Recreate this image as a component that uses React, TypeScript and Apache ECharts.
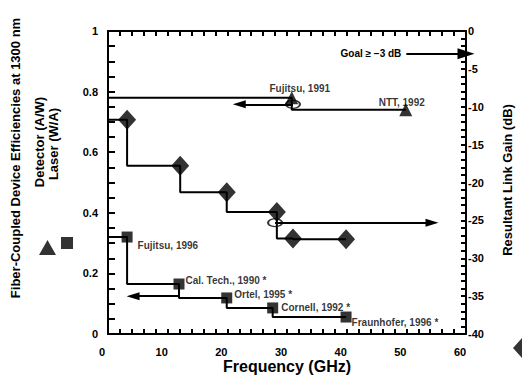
import React, { useEffect, useRef } from "react";
import * as echarts from "echarts";

// ---- data ----
const gainFreq = [3.2, 12.1, 19.9, 28.3, 31.0, 39.9];
const gainDb = [-11.7, -17.8, -21.3, -23.9, -27.4, -27.5];
const laserFreq = [3.2, 11.9, 19.9, 27.6, 39.9];
const laserEff = [0.32, 0.165, 0.119, 0.086, 0.056];
const laserNames = ["Fujitsu, 1996", "Cal. Tech., 1990 *", "Ortel, 1995 *", "Cornell, 1992 *", "Fraunhofer, 1996 *"];
const detFreq = [30.8, 49.9];
const detEff = [0.78, 0.74];
const detNames = ["Fujitsu, 1991", "NTT, 1992"];
const detOpen = [31.0, 0.758];
const gainOpen = [28.0, -25.3];
const detArrow = [[31.0, 0.758], [22.0, 0.758]];
const laserArrow = [[12.0, 0.125], [4.2, 0.125]];
const gainArrow = [[28.0, -25.3], [54.3, -25.3]];
const goalArrow = [[50.0, -3.0], [60.0, -3.0]];
const goalText = "Goal \u2265 \u22123 dB";
const leftTitle = "Fiber-Coupled Device Efficiencies at 1300 nm";
const detTitle = "Detector (A/W)";
const laserTitle = "Laser (W/A)";
const rightTitle = "Resultant Link Gain (dB)";
const xTitle = "Frequency (GHz)";
// axis ranges / tick steps: [min, max, labelled step, tick step]
const freqRange = [0, 60, 10, 2];
const effRange = [0, 1, 0.2, 0.05];
const gainRange = [-40, 0, 5, 1];

// ---- styles (label placement) ----
const laserLabelStyle = [
  { position: "right", distance: 5, offset: [0, 8] },
  { position: "right", distance: 1, offset: [0, -4] },
  { position: "right", distance: 2, offset: [0, -3] },
  { position: "right", distance: 3, offset: [0, 0] },
  { position: "right", distance: 0, offset: [0, 5] },
];
const detLabelStyle = [
  { position: "inside", offset: [8, -9] },
  { position: "inside", offset: [-4, -7] },
];

const FONT = "'Liberation Sans', Arial, Helvetica, sans-serif";
const BLACK = "#000";

function stepData(xs: number[], ys: number[]) {
  return [[0, ys[0]], ...xs.map((x, i) => [x, ys[i]])];
}

function arrowLine(seg: number[][]) {
  return [
    { coord: seg[0], symbol: "none", label: { show: false } },
    { coord: seg[1], symbol: "triangle", symbolSize: [8, 13] },
  ];
}

function majorOnly(step: number) {
  return (v: number) => {
    const r = v / step;
    if (Math.abs(r - Math.round(r)) > 1e-6) return "";
    const n = Math.round(r) * step;
    return String(Math.round(n * 1000) / 1000);
  };
}

export default function App() {
  const ref = useRef<HTMLDivElement>(null);
  useEffect(() => {
    if (!ref.current) return;
    const chart = echarts.init(ref.current, null, { renderer: "svg" });
    const axisLine = { show: true, onZero: false, lineStyle: { color: BLACK, width: 2 } };
    const labelStyle = { color: BLACK, fontFamily: FONT, fontWeight: "bold", fontSize: 11 };
    const lineStyle = { color: BLACK, width: 2 };
    const tick = (len: number) => ({ show: true, inside: true, length: len, lineStyle: { color: BLACK, width: 2 } });
    const option: any = {
      animation: false,
      backgroundColor: "#fff",
      textStyle: { fontFamily: FONT },
      grid: { left: 108, right: 56, top: 31, bottom: 42, containLabel: false, outerBoundsMode: "none" },
      legend: [
        {
          data: [{ name: detTitle, icon: "triangle" }],
          left: 34, top: 235, itemWidth: 17, itemHeight: 15, formatter: () => "", selectedMode: false,
          textStyle: { fontSize: 1 },
        },
        {
          data: [{ name: laserTitle, icon: "rect" }],
          left: 56, top: 232, itemWidth: 12, itemHeight: 12, formatter: () => "", selectedMode: false,
          textStyle: { fontSize: 1 },
        },
        {
          data: [{ name: rightTitle, icon: "diamond" }],
          left: 508, top: 333, itemWidth: 18, itemHeight: 20, formatter: () => "", selectedMode: false,
          textStyle: { fontSize: 1 },
        },
      ],
      xAxis: [
        {
          type: "value", min: freqRange[0], max: freqRange[1], interval: freqRange[3], position: "bottom",
          axisLine, splitLine: { show: false }, axisTick: tick(5),
          axisLabel: { ...labelStyle, margin: 12, padding: [0, 12, 0, 0], formatter: majorOnly(freqRange[2]) },
          name: xTitle, nameLocation: "middle", nameGap: 24, nameMoveOverlap: false,
          nameTextStyle: { color: BLACK, fontFamily: FONT, fontSize: 16, fontWeight: "bold" },
        },
        {
          type: "value", min: freqRange[0], max: freqRange[1], interval: freqRange[3], position: "top",
          axisLine, splitLine: { show: false }, axisTick: tick(5), axisLabel: { show: false },
        },
      ],
      yAxis: [
        {
          type: "value", min: effRange[0], max: effRange[1], interval: effRange[3], position: "left",
          axisLine, splitLine: { show: false }, axisTick: tick(7),
          axisLabel: { ...labelStyle, margin: 10, padding: [7, 0, 0, 0], formatter: majorOnly(effRange[2]) },
        },
        {
          type: "value", min: gainRange[0], max: gainRange[1], interval: gainRange[3], position: "right",
          axisLine, splitLine: { show: false }, axisTick: tick(5),
          axisLabel: { ...labelStyle, margin: 2, padding: [7, 0, 0, 0], formatter: majorOnly(gainRange[2]) },
        },
      ],
      graphic: [
        {
          type: "text", x: 15, y: 158, rotation: Math.PI / 2,
          style: { text: leftTitle, fill: BLACK, font: `bold 13px ${FONT}`, textAlign: "center", textVerticalAlign: "middle" },
        },
        {
          type: "text", x: 39, y: 142, rotation: Math.PI / 2,
          style: { text: detTitle, fill: BLACK, font: `bold 13px ${FONT}`, textAlign: "center", textVerticalAlign: "middle" },
        },
        {
          type: "text", x: 53, y: 144, rotation: Math.PI / 2,
          style: { text: laserTitle, fill: BLACK, font: `bold 13px ${FONT}`, textAlign: "center", textVerticalAlign: "middle" },
        },
        {
          type: "text", x: 507, y: 180, rotation: Math.PI / 2,
          style: { text: rightTitle, fill: BLACK, font: `bold 13px ${FONT}`, textAlign: "center", textVerticalAlign: "middle" },
        },
      ],
      series: [
        {
          type: "line", name: "laserStep", step: "start", xAxisIndex: 0, yAxisIndex: 0,
          data: stepData(laserFreq, laserEff), symbol: "none", lineStyle, z: 2,
          markLine: { silent: true, animation: false, lineStyle: { color: BLACK, width: 2, type: "solid" }, data: [arrowLine(laserArrow)] },
        },
        {
          type: "scatter", name: laserTitle, xAxisIndex: 0, yAxisIndex: 0, symbol: "rect", symbolSize: 11, z: 5,
          itemStyle: { color: BLACK },
          data: laserFreq.map((x, i) => ({
            value: [x, laserEff[i]],
            label: { show: true, formatter: laserNames[i], color: BLACK, fontFamily: FONT, fontWeight: "bold", fontSize: 10, ...laserLabelStyle[i] },
          })),
        },
        {
          type: "line", name: "detStep", step: "start", xAxisIndex: 0, yAxisIndex: 0,
          data: stepData(detFreq, detEff), symbol: "none", lineStyle, z: 2,
          markLine: { silent: true, animation: false, lineStyle: { color: BLACK, width: 2, type: "solid" }, data: [arrowLine(detArrow)] },
        },
        {
          type: "scatter", name: detTitle, xAxisIndex: 0, yAxisIndex: 0, symbol: "triangle", symbolSize: 13, z: 5,
          itemStyle: { color: BLACK },
          data: detFreq.map((x, i) => ({
            value: [x, detEff[i]],
            label: { show: true, formatter: detNames[i], color: BLACK, fontFamily: FONT, fontWeight: "bold", fontSize: 10, ...detLabelStyle[i] },
          })),
        },
        {
          type: "scatter", name: "detOpen", xAxisIndex: 0, yAxisIndex: 0, symbol: "circle", symbolSize: [14, 8], z: 6,
          itemStyle: { color: "rgba(0,0,0,0)", borderColor: BLACK, borderWidth: 1.5 },
          data: [detOpen],
        },
        {
          type: "line", name: "gainStep", step: "start", xAxisIndex: 0, yAxisIndex: 1,
          data: stepData(gainFreq, gainDb), symbol: "none", lineStyle, z: 2,
          markLine: {
            silent: true, animation: false, lineStyle: { color: BLACK, width: 2, type: "solid" },
            data: [
              arrowLine(gainArrow),
              [
                {
                  coord: goalArrow[0], symbol: "none",
                  label: { show: true, position: "start", distance: 5, formatter: goalText, color: BLACK, fontFamily: FONT, fontWeight: "bold", fontSize: 10, padding: [6, 0, 0, 0] },
                },
                { coord: goalArrow[1], symbol: "triangle", symbolSize: [11, 17] },
              ],
            ],
          },
        },
        {
          type: "scatter", name: rightTitle, xAxisIndex: 0, yAxisIndex: 1, symbol: "diamond", symbolSize: [18, 20], z: 5,
          itemStyle: { color: BLACK },
          data: gainFreq.map((x, i) => [x, gainDb[i]]),
        },
        {
          type: "scatter", name: "gainOpen", xAxisIndex: 0, yAxisIndex: 1, symbol: "circle", symbolSize: [14, 8], z: 6,
          itemStyle: { color: "rgba(0,0,0,0)", borderColor: BLACK, borderWidth: 1.5 },
          data: [gainOpen],
        },
      ],
    };
    chart.setOption(option);
    return () => chart.dispose();
  }, []);
  return <div ref={ref} style={{ position: "fixed", left: 0, top: 0, width: 522, height: 376, background: "#fff" }} />;
}
